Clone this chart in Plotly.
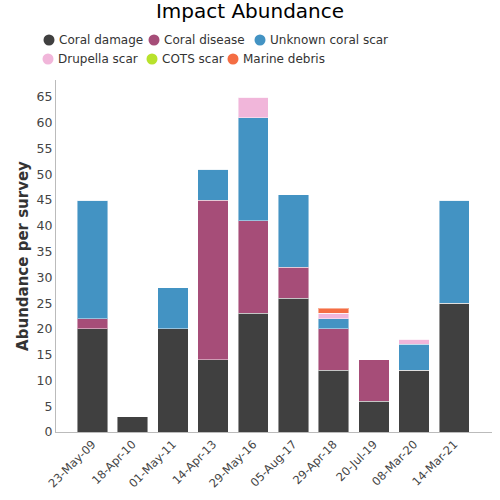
import plotly.graph_objects as go

dates = ["23-May-09", "18-Apr-10", "01-May-11", "14-Apr-13", "29-May-16",
         "05-Aug-17", "29-Apr-18", "20-Jul-19", "08-Mar-20", "14-Mar-21"]
coral_damage = [20, 3, 20, 14, 23, 26, 12, 6, 12, 25]
coral_disease = [2, 0, 0, 31, 18, 6, 8, 8, 0, 0]
unknown_scar = [23, 0, 8, 6, 20, 14, 2, 0, 5, 20]
drupella_scar = [0, 0, 0, 0, 4, 0, 1, 0, 1, 0]
cots_scar = [0, 0, 0, 0, 0, 0, 0, 0, 0, 0]
marine_debris = [0, 0, 0, 0, 0, 0, 1, 0, 0, 0]

series_names = ["Coral damage", "Coral disease", "Unknown coral scar",
                "Drupella scar", "COTS scar", "Marine debris"]
series_values = [coral_damage, coral_disease, unknown_scar,
                 drupella_scar, cots_scar, marine_debris]
series_colors = ["#404040", "#a64d78", "#4393c3", "#f1b6da", "#b8e22c", "#f46d43"]

# plot area in pixels
L, R, T, B = 56, 492, 80, 432
W, H = 500, 500

fig = go.Figure()
for name, vals, col in zip(series_names, series_values, series_colors):
    fig.add_trace(go.Bar(
        name=name, x=dates, y=vals, showlegend=False,
        marker=dict(color=col, line=dict(color="rgba(255,255,255,0.45)", width=1)),
    ))

# manual legend (circle + text), pixel positions
legend_pos = [(49, 40), (154, 40), (260, 40), (48, 59), (152, 59), (233, 59)]
def px2paper(px, py):
    return (px - L) / (R - L), (B - py) / (B - T)

shapes = []
annotations = []
for (cx, cy), name, col in zip(legend_pos, series_names, series_colors):
    xp, yp = px2paper(cx, cy)
    shapes.append(dict(type="circle", xref="paper", yref="paper",
                       xsizemode="pixel", ysizemode="pixel",
                       xanchor=xp, yanchor=yp, x0=-5.5, x1=5.5, y0=-5.5, y1=5.5,
                       fillcolor=col, line=dict(width=0)))
    annotations.append(dict(text=name, xref="paper", yref="paper", x=px2paper(cx + 8, cy)[0],
                            y=yp, xanchor="left", yanchor="middle", showarrow=False,
                            font=dict(size=12, color="#333333")))

fig.update_layout(
    barmode="stack",
    bargap=0.245,
    width=W, height=H,
    margin=dict(l=L, r=W - R, t=T, b=H - B, autoexpand=False),
    paper_bgcolor="white", plot_bgcolor="white",
    font=dict(family="DejaVu Sans", size=12, color="#333333"),
    showlegend=False,
    title=dict(text="Impact Abundance", x=0.5, xanchor="center", xref="container",
               y=0.992, yanchor="top", yref="container",
               font=dict(size=20, color="black")),
    shapes=shapes,
    annotations=annotations,
    xaxis=dict(showline=True, linecolor="#bbbbbb", ticks="", showgrid=False,
               tickangle=-45, tickfont=dict(size=11.5, color="#444444"),
               range=[-0.906, 9.938]),
    yaxis=dict(title=dict(text="<b>Abundance per survey</b>",
                          font=dict(size=15, color="#333333"), standoff=4),
               showline=True, linecolor="#bbbbbb", ticks="", showgrid=False,
               range=[0, 68.3], dtick=5, tickfont=dict(size=12.5, color="#444444")),
)

fig.write_html("out.html", post_script="document.body.style.margin='0';",
               config={"displayModeBar": False})
